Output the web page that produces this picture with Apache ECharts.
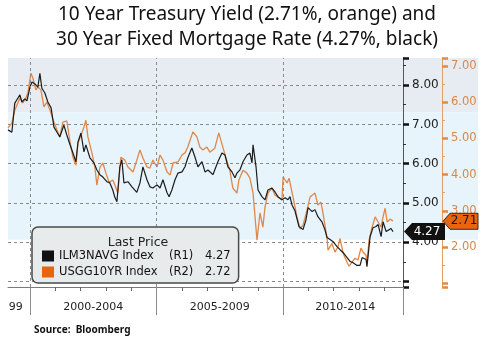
<!DOCTYPE html>
<html>
<head>
<meta charset="utf-8">
<script src="https://cdn.jsdelivr.net/npm/echarts@6/dist/echarts.min.js"></script>
<style>html,body{margin:0;padding:0;background:#fff}#c{width:484px;height:340px}</style>
</head>
<body>
<div id="c"></div>
<script>
const titleLines = ['10 Year Treasury Yield (2.71%, orange) and', '30 Year Fixed Mortgage Rate (4.27%, black)'];
const sourceText = 'Source:  Bloomberg';
const legendHeader = 'Last Price';
const seriesNames = ['ILM3NAVG Index', 'USGG10YR Index'];
const axisTags = ['(R1)', '(R2)'];
const lastPrices = ['4.27', '2.72'];
const endTags = ['4.27', '2.71'];

const mortgageDates = ['1999-02-18','1999-04-15','1999-05-27','1999-06-24','1999-08-09','1999-09-06','1999-10-18','1999-11-18',
 '2000-01-01','2000-01-30','2000-03-12','2000-04-24','2000-05-23','2000-06-21','2000-08-03','2000-09-15','2000-11-01','2000-12-12',
 '2001-01-25','2001-03-07','2001-05-04','2001-06-16','2001-08-01','2001-09-12','2001-10-25','2001-11-24',
 '2002-01-06','2002-02-18','2002-03-18','2002-05-15','2002-07-12','2002-08-24','2002-10-06','2002-11-18',
 '2003-01-15','2003-02-27','2003-04-10','2003-05-09','2003-06-09','2003-07-21','2003-08-19','2003-09-18','2003-11-15',
 '2004-01-12','2004-03-22','2004-05-06','2004-06-18','2004-08-15','2004-09-27','2004-11-09',
 '2005-01-07','2005-02-20','2005-04-03','2005-06-01','2005-07-01','2005-08-10','2005-09-24','2005-11-06',
 '2006-01-03','2006-02-15','2006-03-28','2006-05-25','2006-07-09','2006-08-21','2006-10-18','2006-12-01',
 '2007-01-13','2007-03-25','2007-06-05','2007-08-02','2007-09-15','2007-10-28','2007-12-25',
 '2008-02-06','2008-03-06','2008-04-18','2008-06-01','2008-07-28','2008-09-09','2008-10-09','2008-10-24','2008-12-06',
 '2009-01-04','2009-03-01','2009-04-15','2009-05-27','2009-07-24','2009-09-06','2009-10-18','2009-12-15',
 '2010-01-28','2010-03-12','2010-04-10','2010-05-09','2010-06-21','2010-08-18','2010-10-15','2010-11-27','2010-12-27',
 '2011-02-24','2011-04-06','2011-05-18','2011-07-15','2011-08-27','2011-09-27','2011-11-09','2011-12-21',
 '2012-02-18','2012-04-01','2012-05-15','2012-07-12','2012-08-24','2012-10-06','2012-12-03',
 '2013-01-15','2013-02-14','2013-03-13','2013-04-12','2013-04-25','2013-06-09','2013-07-21','2013-09-03','2013-10-03','2013-11-15','2013-12-13',
 '2014-01-27','2014-02-24','2014-04-07','2014-05-06'];
const mortgageRates = [6.86,6.80,7.54,7.62,7.75,7.57,7.65,7.60,
 7.95,8.08,8.03,7.95,8.30,7.92,7.80,7.57,7.42,6.93,
 6.80,6.68,6.98,6.73,6.48,6.27,6.05,6.55,
 6.78,6.30,6.48,6.15,6.02,5.84,5.72,5.66,
 5.54,5.51,5.33,5.15,5.03,5.92,6.10,5.51,5.54,
 5.41,5.27,5.51,5.92,5.59,5.41,5.38,
 5.46,5.38,5.59,5.26,5.16,5.33,5.59,5.76,
 5.79,5.92,6.15,6.40,6.17,5.92,6.05,5.79,
 5.84,5.72,6.05,6.27,6.22,5.92,5.79,
 5.64,5.76,5.84,6.05,6.22,6.27,6.02,6.48,5.92,
 5.33,5.16,5.08,5.33,5.38,5.28,5.16,5.08,
 5.13,5.08,5.16,4.95,4.80,4.40,4.32,4.57,4.88,
 4.78,4.83,4.65,4.52,4.32,4.12,4.07,4.02,
 3.89,3.81,3.74,3.61,3.51,3.48,3.41,
 3.41,3.61,3.63,3.56,3.38,4.14,4.37,4.40,4.45,4.14,4.52,
 4.27,4.32,4.35,4.27];

const treasuryDates = ['1999-02-18','1999-04-15','1999-05-27','1999-07-10','1999-08-09','1999-09-20','1999-11-03','1999-12-02',
 '2000-01-15','2000-02-12','2000-03-26','2000-04-24','2000-06-07','2000-07-20','2000-09-02','2000-10-15','2000-12-12',
 '2001-01-25','2001-03-07','2001-04-20','2001-06-16','2001-08-01','2001-09-12','2001-10-25','2001-11-24',
 '2002-01-06','2002-02-18','2002-03-18','2002-04-16','2002-06-13','2002-07-26','2002-08-24','2002-10-06','2002-11-18',
 '2003-01-01','2003-02-15','2003-04-12','2003-06-22','2003-08-04','2003-10-01','2003-11-15',
 '2004-01-27','2004-03-22','2004-05-06','2004-06-18','2004-08-15','2004-09-27','2004-11-09',
 '2005-01-07','2005-02-20','2005-04-03','2005-06-01','2005-07-15','2005-08-28','2005-11-06',
 '2006-01-03','2006-02-15','2006-03-28','2006-06-09','2006-08-06','2006-09-18','2006-11-01','2006-12-28',
 '2007-02-09','2007-04-21','2007-06-18','2007-08-15','2007-09-27','2007-11-24',
 '2008-01-06','2008-03-06','2008-04-03','2008-06-01','2008-07-28','2008-09-09','2008-10-24','2008-12-20',
 '2009-02-01','2009-03-15','2009-04-15','2009-05-27','2009-07-24','2009-09-06','2009-10-18','2009-12-15',
 '2010-01-01','2010-02-28','2010-03-28','2010-05-24','2010-07-20','2010-09-02','2010-10-15','2010-12-12',
 '2011-01-24','2011-02-24','2011-04-06','2011-05-18','2011-07-01','2011-07-30','2011-09-27','2011-10-11','2011-12-07',
 '2012-01-19','2012-03-02','2012-04-01','2012-05-15','2012-07-12','2012-08-10','2012-09-22','2012-11-03','2012-12-17',
 '2013-01-28','2013-02-26','2013-04-12','2013-04-25','2013-05-25','2013-07-08','2013-08-21','2013-10-03','2013-11-15','2013-12-13',
 '2014-01-12','2014-02-10','2014-03-24','2014-05-06'];
const treasuryYields = [5.29,5.42,5.78,5.98,6.12,5.98,6.12,6.25,
 6.80,6.67,6.34,6.42,6.34,5.87,6.00,5.78,5.45,
 5.23,5.04,5.45,5.48,4.90,4.48,4.26,4.87,
 5.09,5.31,5.50,5.04,4.60,4.20,3.71,4.20,4.32,
 4.04,3.79,3.85,3.49,4.48,4.40,4.21,
 4.07,4.40,4.68,4.46,4.21,4.18,4.40,
 4.21,4.54,4.40,4.07,3.99,4.32,4.35,
 4.54,4.60,4.76,5.18,5.04,4.76,4.68,4.76,
 4.62,4.73,5.15,4.76,4.48,4.12,
 3.63,3.49,3.85,4.12,4.04,3.90,3.49,2.19,
 2.94,2.55,3.10,3.49,3.63,3.43,3.38,3.30,
 3.93,3.77,3.90,3.38,2.83,2.50,2.60,3.02,
 3.38,3.43,3.49,3.16,3.24,2.94,2.24,1.91,2.10,
 1.86,2.00,2.24,1.83,1.58,1.47,1.58,1.69,1.64,
 1.97,1.86,1.77,1.55,2.19,2.55,2.83,2.69,2.55,2.83,
 3.07,2.69,2.77,2.72];

const periodLabelDates = ['1999-06-10','2002-07-01','2007-07-01','2012-06-15'];
const periodLabels = ['99','2000-2004','2005-2009','2010-2014'];
const yearTickDates = ['2000-01-01','2001-01-01','2002-01-01','2003-01-01','2004-01-01','2005-01-01','2006-01-01','2007-01-01',
 '2008-01-01','2009-01-01','2010-01-01','2011-01-01','2012-01-01','2013-01-01','2014-01-01'];
const periodBreakDates = ['2000-01-01','2005-01-01','2010-01-01'];
const axisStart = '1999-02-18', axisEnd = '2014-09-27';
const leftAxisRange = [2.86, 8.69];
const rightAxisRange = [0.895, 7.22];

const ts = s => Date.UTC(+s.slice(0, 4), +s.slice(5, 7) - 1, +s.slice(8, 10));
const chart = echarts.init(document.getElementById('c'), null, {renderer: 'canvas'});
const AX_FONT = 'DejaVu Sans';
const labelTs = periodLabelDates.map(ts);

const option = {
  animation: false,
  grid: {left: 8, right: 81, top: 58, bottom: 53, containLabel: false},
  legend: {
    orient: 'vertical', left: 32, top: 227, z: 20,
    padding: [23, 8, 5, 10], itemGap: 4, itemWidth: 12, itemHeight: 11, icon: 'rect',
    backgroundColor: '#e8ebec', borderColor: '#4a4a4a', borderWidth: 1.5, borderRadius: 6,
    selectedMode: false,
    data: [{name: seriesNames[0], itemStyle: {color: '#111'}}, {name: seriesNames[1], itemStyle: {color: '#e8650f'}}],
    formatter: name => {
      const i = seriesNames.indexOf(name);
      return '{n|' + name + '}{r|' + axisTags[i] + '}{v|' + lastPrices[i] + '}';
    },
    textStyle: {
      fontFamily: AX_FONT, fontSize: 11.5, color: '#111',
      rich: {
        n: {fontFamily: AX_FONT, fontSize: 11.5, color: '#111', width: 110},
        r: {fontFamily: AX_FONT, fontSize: 11.5, color: '#111', width: 36},
        v: {fontFamily: AX_FONT, fontSize: 11.5, color: '#111'}
      }
    }
  },
  xAxis: [{
    type: 'value', min: ts(axisStart), max: ts(axisEnd), position: 'bottom', scale: true,
    axisLine: {show: true, lineStyle: {color: '#7a7a7a', width: 1}},
    axisTick: {show: true, customValues: yearTickDates.map(ts), length: 4, lineStyle: {color: '#666'}},
    axisLabel: {
      show: true, customValues: labelTs, margin: 15,
      fontFamily: AX_FONT, fontSize: 11, color: '#222',
      formatter: v => {
        const i = labelTs.findIndex(t => Math.abs(t - v) < 86400000);
        return i >= 0 ? periodLabels[i] : '';
      }
    },
    splitLine: {show: false}
  }, {
    type: 'value', min: ts(axisStart), max: ts(axisEnd), position: 'bottom', scale: true,
    axisLine: {show: false},
    axisTick: {show: true, customValues: periodBreakDates.map(ts).concat([ts(axisEnd)]), length: 28, lineStyle: {color: '#8c8c8c'}},
    axisLabel: {show: false},
    splitLine: {show: false}
  }],
  yAxis: [{
    type: 'value', position: 'right', min: leftAxisRange[0], max: leftAxisRange[1],
    axisLine: {show: true, lineStyle: {color: '#555', width: 1}},
    axisTick: {show: true, length: 6, lineStyle: {color: '#111', width: 2.5}},
    minorTick: {show: true, splitNumber: 2, length: 3, lineStyle: {color: '#333', width: 1}},
    axisLabel: {
      margin: 9, fontFamily: AX_FONT, fontSize: 12, color: '#222', showMinLabel: false, showMaxLabel: false,
      formatter: v => (Math.abs(v - Math.round(v)) < 1e-6 && v >= 4 && v <= 8) ? v.toFixed(2) : ''
    },
    splitLine: {show: true, showMinLine: false, showMaxLine: false, lineStyle: {type: [3, 3], color: '#8a8a8a', width: 1}}
  }, {
    type: 'value', position: 'right', offset: 39, min: rightAxisRange[0], max: rightAxisRange[1],
    axisLine: {show: true, lineStyle: {color: '#e2a06a', width: 1}},
    axisTick: {show: true, length: 6, lineStyle: {color: '#e08a45', width: 2.5}},
    minorTick: {show: true, splitNumber: 2, length: 3, lineStyle: {color: '#e2a06a', width: 1}},
    axisLabel: {
      margin: 9, fontFamily: AX_FONT, fontSize: 11.5, color: '#d6884c', showMinLabel: false, showMaxLabel: false,
      formatter: v => (Math.abs(v - Math.round(v)) < 1e-6 && v >= 2 && v <= 7) ? v.toFixed(2) : ''
    },
    splitLine: {show: false}
  }],
  series: [{
    type: 'line', name: '_grid', data: [], z: 1, silent: true,
    markLine: {
      silent: true, symbol: 'none', label: {show: false},
      lineStyle: {type: [3, 3], color: '#8a8a8a', width: 1},
      data: periodBreakDates.map(d => ({xAxis: ts(d)}))
    }
  }, {
    type: 'line', name: seriesNames[1], xAxisIndex: 0, yAxisIndex: 1, z: 3,
    showSymbol: false, sampling: 'none',
    lineStyle: {color: '#e0874a', width: 1.3}, itemStyle: {color: '#e0874a'},
    data: treasuryDates.map((d, i) => [ts(d), treasuryYields[i]])
  }, {
    type: 'line', name: seriesNames[0], xAxisIndex: 0, yAxisIndex: 0, z: 4,
    showSymbol: false, sampling: 'none',
    lineStyle: {color: '#1c1c1c', width: 1.2}, itemStyle: {color: '#1c1c1c'},
    data: mortgageDates.map((d, i) => [ts(d), mortgageRates[i]])
  }]
};
chart.setOption(option);

const xEnd = chart.convertToPixel({xAxisIndex: 0}, ts(axisEnd));
const xStart = chart.convertToPixel({xAxisIndex: 0}, ts(axisStart));
const yTop = chart.convertToPixel({yAxisIndex: 0}, leftAxisRange[1]);
const yB = chart.convertToPixel({yAxisIndex: 0}, +endTags[0]);
const yO = chart.convertToPixel({yAxisIndex: 1}, +endTags[1]);
const xO = xEnd + 39;
const bandSplit1 = chart.convertToPixel({yAxisIndex: 0}, 7.31);
const bandSplit2 = chart.convertToPixel({yAxisIndex: 0}, 4.06);

chart.setOption({
  graphic: [
    {type: 'rect', z: -100, silent: true, shape: {x: xStart, y: yTop, width: 470, height: bandSplit1 - yTop}, style: {fill: '#e6ecf2'}},
    {type: 'rect', z: -100, silent: true, shape: {x: xStart, y: bandSplit1, width: 470, height: bandSplit2 - bandSplit1}, style: {fill: '#e7f4fb'}},
    {type: 'text', x: 247, y: 15, z: 10, style: {text: titleLines[0], fontFamily: 'Noto Sans', fontSize: 19, fill: '#111', align: 'center', verticalAlign: 'middle'}},
    {type: 'text', x: 247, y: 40, z: 10, style: {text: titleLines[1], fontFamily: 'Noto Sans', fontSize: 19, fill: '#111', align: 'center', verticalAlign: 'middle'}},
    {type: 'text', x: 34, y: 330, z: 10, style: {text: sourceText, fontFamily: 'Noto Sans', fontWeight: 'bold', fontSize: 10, fill: '#111', align: 'left', verticalAlign: 'middle'}},
    {type: 'text', x: 138, y: 243, z: 30, style: {text: legendHeader, fontFamily: AX_FONT, fontSize: 12.5, fill: '#222', align: 'center', verticalAlign: 'middle'}},
    {type: 'polygon', z: 40, shape: {points: [[xEnd + 1, yB], [xEnd + 9, yB - 8.5], [xEnd + 42, yB - 8.5], [xEnd + 42, yB + 8.5], [xEnd + 9, yB + 8.5]]}, style: {fill: '#111'}},
    {type: 'text', x: xEnd + 24, y: yB, z: 41, style: {text: endTags[0], fontFamily: AX_FONT, fontSize: 12, fill: '#fff', align: 'center', verticalAlign: 'middle'}},
    {type: 'polygon', z: 40, shape: {points: [[xO + 1, yO], [xO + 8, yO - 8], [xO + 36, yO - 8], [xO + 36, yO + 8], [xO + 8, yO + 8]]}, style: {fill: '#e8650f', stroke: '#3a2a1e', lineWidth: 1}},
    {type: 'text', x: xO + 22, y: yO, z: 41, style: {text: endTags[1], fontFamily: AX_FONT, fontSize: 12, fill: '#1a1a1a', align: 'center', verticalAlign: 'middle'}}
  ]
});
</script>
</body>
</html>
